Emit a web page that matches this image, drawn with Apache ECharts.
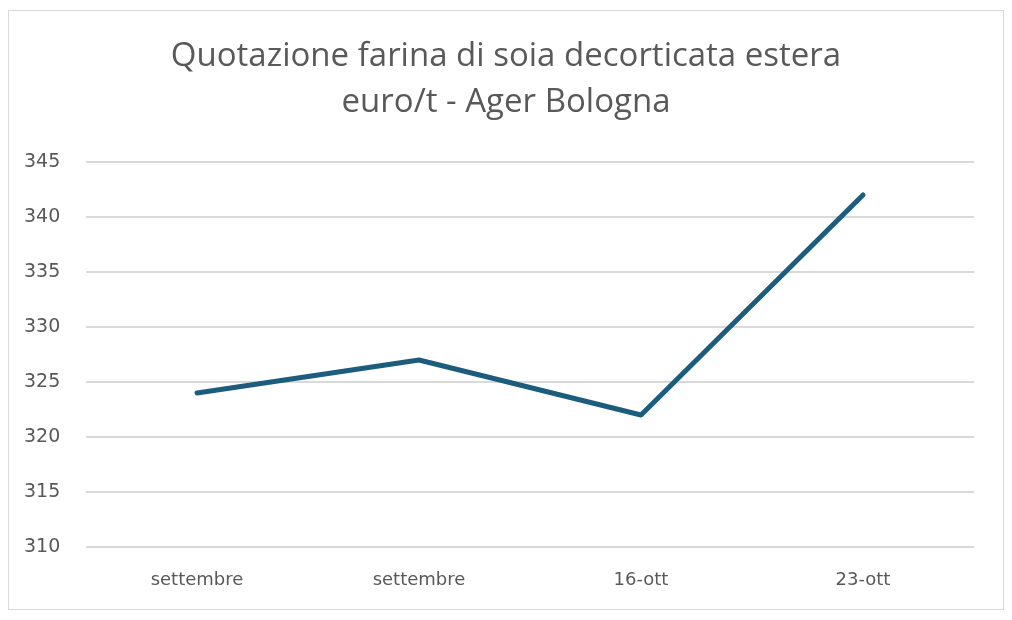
<!DOCTYPE html>
<html>
<head>
<meta charset="utf-8">
<script src="https://cdn.jsdelivr.net/npm/echarts@6/dist/echarts.min.js"></script>
<style>
  html, body { margin: 0; padding: 0; background: #fff; }
  #main { position: absolute; left: 8px; top: 10px; width: 994px; height: 598px; border: 1px solid #d9d9d9; }
</style>
</head>
<body>
<div id="main"></div>
<script>
// dati
const categories = ["settembre", "settembre", "16-ott", "23-ott"];
const prices = [324, 327, 322, 342];
const yMin = 310, yMax = 345, yStep = 5;

var chart = echarts.init(document.getElementById("main"));
var option = {
  animation: false,
  title: {
    text: "Quotazione farina di soia decorticata estera\neuro/t - Ager Bologna",
    left: "center",
    top: 18,
    textStyle: {
      fontFamily: "Open Sans",
      fontWeight: "normal",
      fontSize: 33,
      color: "#595959",
      lineHeight: 46,
    },
  },
  grid: { left: 77, right: 29, top: 151, bottom: 62 },
  xAxis: {
    type: "category",
    data: categories,
    axisLine: { show: false },
    axisTick: { show: false },
    axisLabel: { color: "#595959", fontSize: 18, fontFamily: "DejaVu Sans", margin: 24 },
  },
  yAxis: {
    type: "value",
    min: yMin,
    max: yMax,
    interval: yStep,
    axisLine: { show: false },
    axisTick: { show: false },
    axisLabel: { color: "#595959", fontSize: 19, fontFamily: "DejaVu Sans", margin: 62, align: "left" },
    splitLine: { lineStyle: { color: "#d9d9d9", width: 2 } },
  },
  series: [
    {
      type: "line",
      data: prices,
      symbol: "none",
      lineStyle: { color: "#1c5d7e", width: 5, cap: "round", join: "round" },
    },
  ],
};
chart.setOption(option);
</script>
</body>
</html>
